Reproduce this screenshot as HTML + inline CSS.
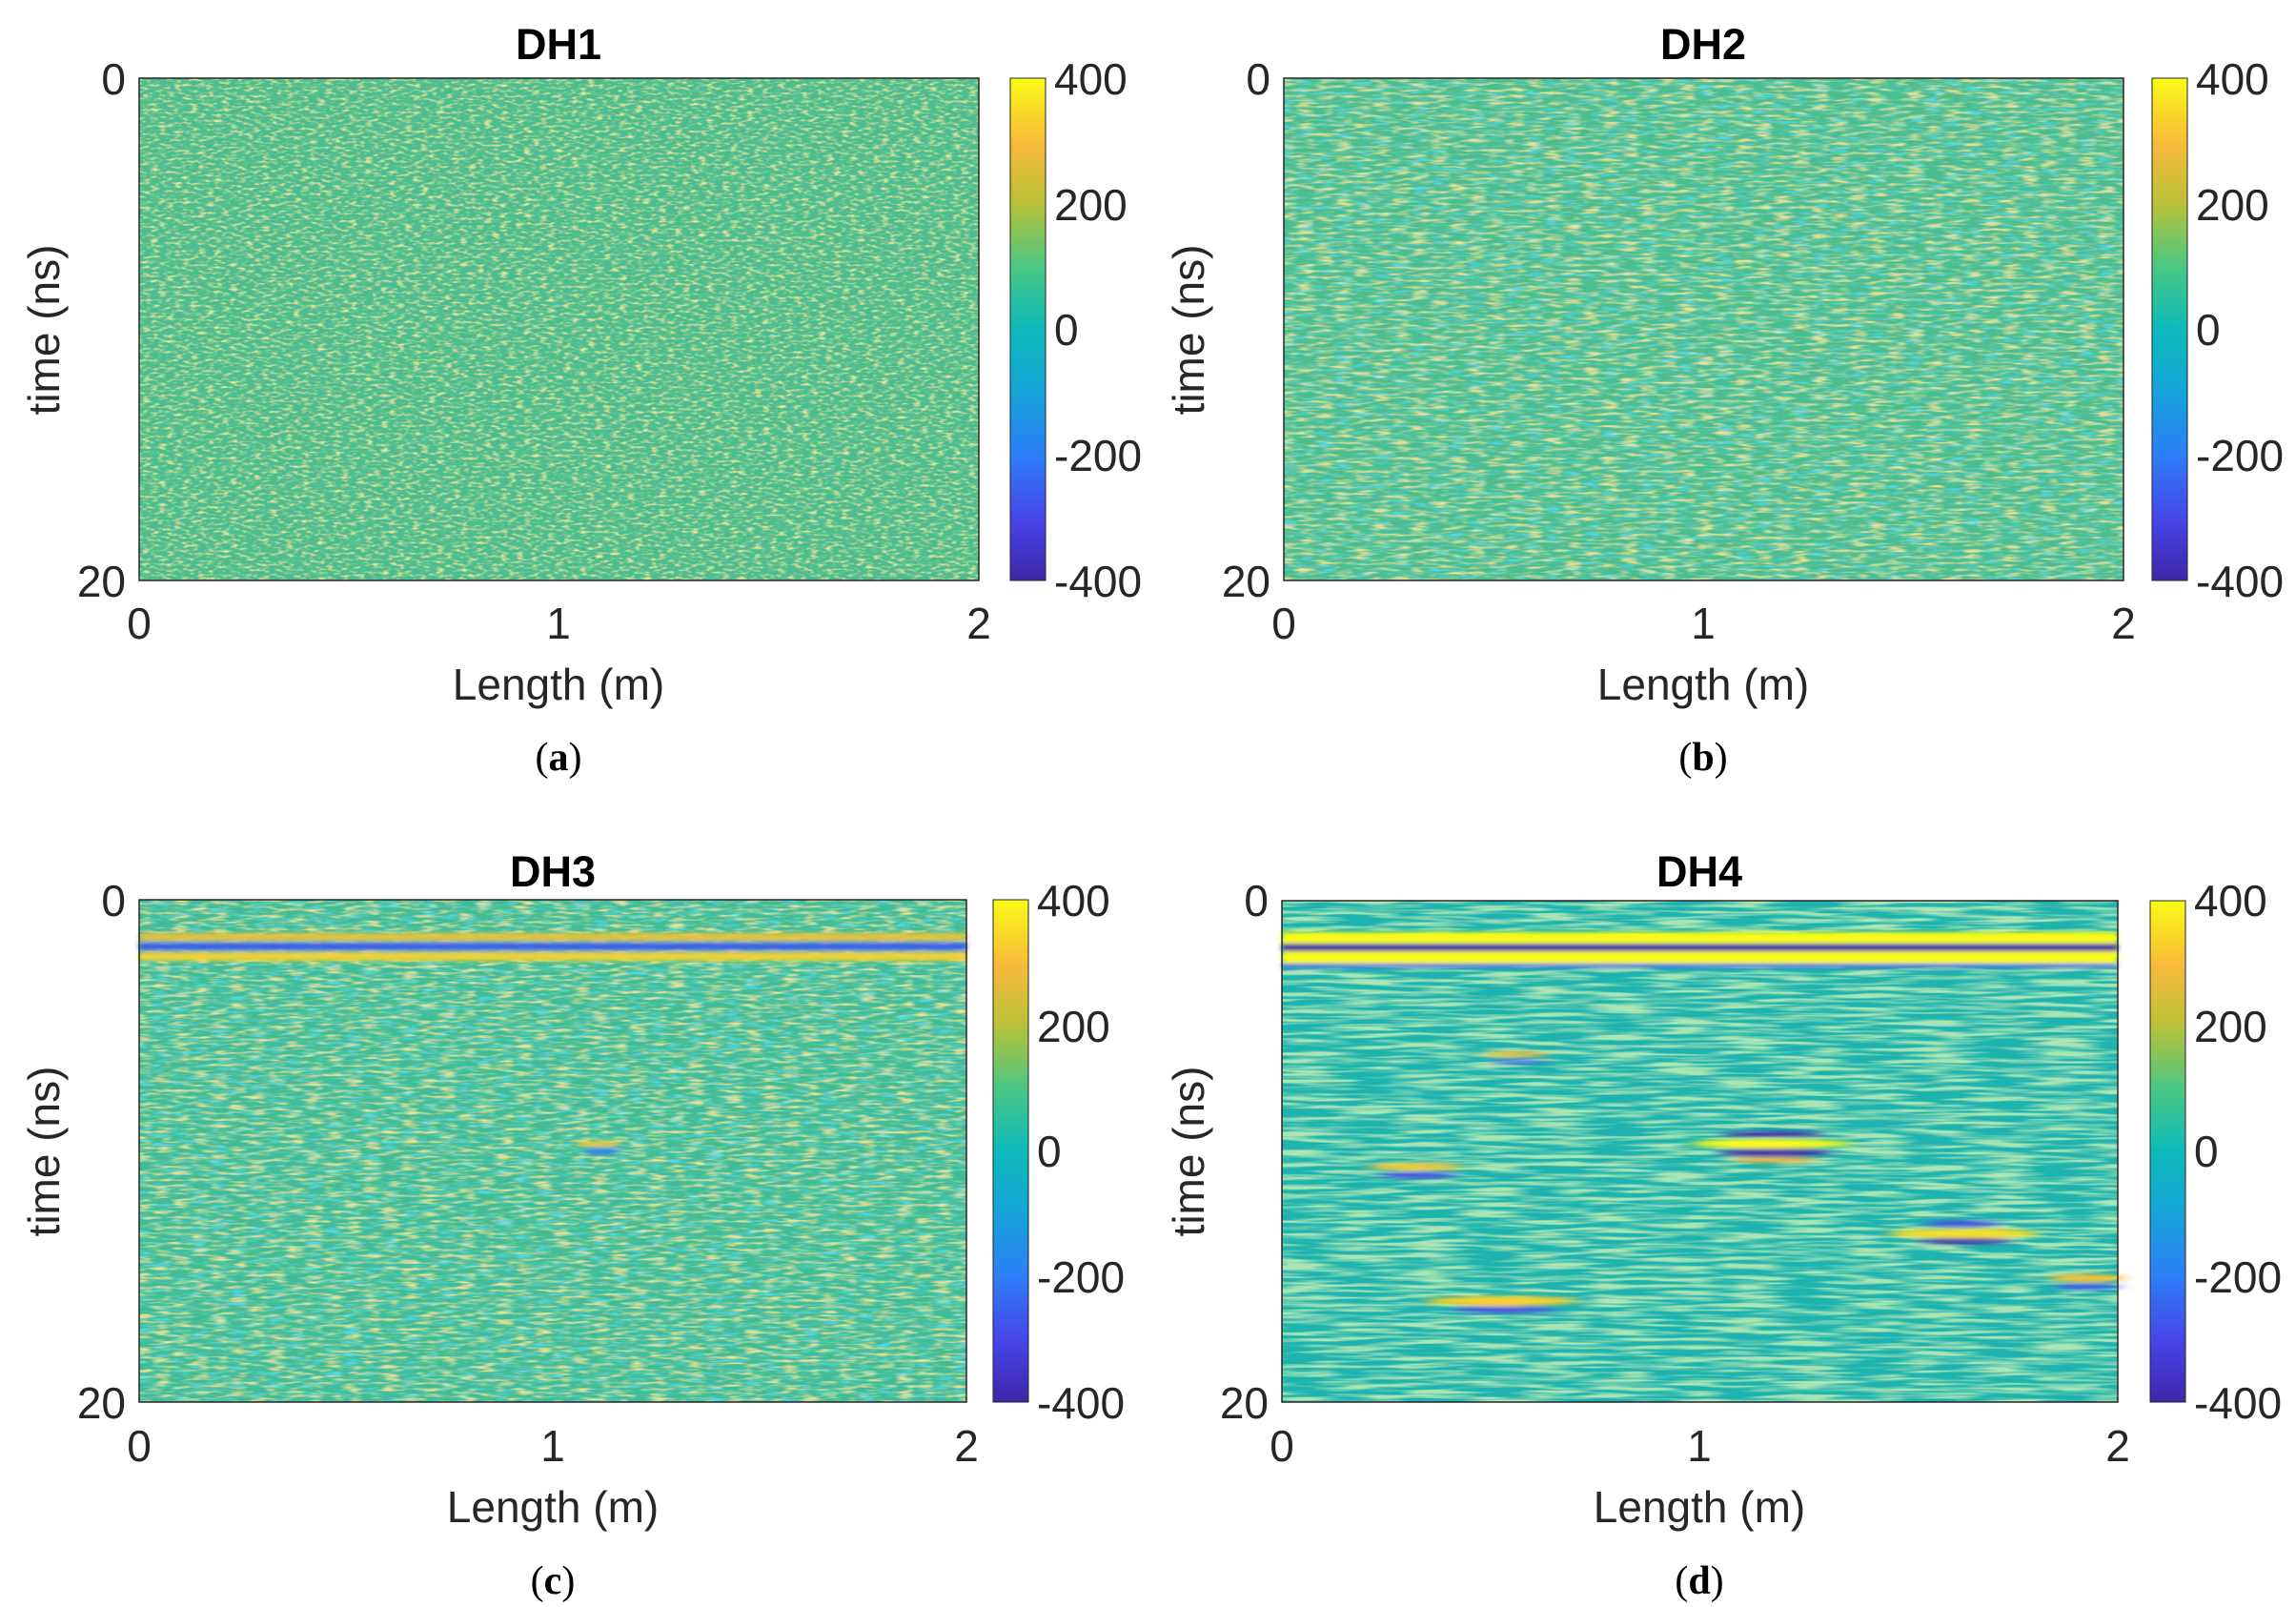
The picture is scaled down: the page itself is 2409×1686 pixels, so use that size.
<!DOCTYPE html>
<html><head><meta charset="utf-8"><style>
html,body{margin:0;padding:0;background:#fff;}
svg{display:block}
.t{font-family:"Liberation Sans",Arial,sans-serif;font-size:46px;fill:#262626}
.ti{font-family:"Liberation Sans",Arial,sans-serif;font-size:45px;font-weight:bold;fill:#000}
.cap{font-family:"Liberation Serif",serif;font-size:42px;fill:#000}
</style></head><body>
<svg width="2409" height="1686" viewBox="0 0 2409 1686" xmlns="http://www.w3.org/2000/svg">
<defs>
<linearGradient id="parula" x1="0" y1="1" x2="0" y2="0">
<stop offset="0" stop-color="#3e26a8"/><stop offset="0.12" stop-color="#4744e8"/>
<stop offset="0.25" stop-color="#2c7ef7"/><stop offset="0.38" stop-color="#16a5d8"/>
<stop offset="0.5" stop-color="#0cbaba"/><stop offset="0.62" stop-color="#46c785"/>
<stop offset="0.75" stop-color="#b9c138"/><stop offset="0.87" stop-color="#f9ba3a"/>
<stop offset="1" stop-color="#f9fb15"/></linearGradient>
<filter id="nA" x="0" y="0" width="1" height="1"><feTurbulence type="fractalNoise" baseFrequency="0.12 0.35" numOctaves="2" seed="3"/>
<feColorMatrix type="matrix" values="0 0 0 0 0.8  0 0 0 0 0.78  0 0 0 0 0.3  0 0 0 3 -1.4"/></filter>
<filter id="nB" x="0" y="0" width="1" height="1"><feTurbulence type="fractalNoise" baseFrequency="0.05 0.3" numOctaves="2" seed="7"/>
<feColorMatrix type="matrix" values="0 0 0 0 0.82  0 0 0 0 0.75  0 0 0 0 0.3  0 0 0 3 -1.4"/></filter>
<filter id="nBt" x="0" y="0" width="1" height="1"><feTurbulence type="fractalNoise" baseFrequency="0.05 0.3" numOctaves="2" seed="11"/>
<feColorMatrix type="matrix" values="0 0 0 0 0.1  0 0 0 0 0.68  0 0 0 0 0.78  0 0 0 3 -1.45"/></filter>
<filter id="nD" x="0" y="0" width="1" height="1"><feTurbulence type="fractalNoise" baseFrequency="0.015 0.25" numOctaves="2" seed="5"/>
<feColorMatrix type="matrix" values="0 0 0 0 0.4  0 0 0 0 0.78  0 0 0 0 0.45  0 0 0 3.5 -1.4"/></filter>
<filter id="bl"><feGaussianBlur stdDeviation="3 2"/></filter>
<filter id="bl2"><feGaussianBlur stdDeviation="8 2"/></filter>
</defs>

<!-- Panel a -->
<rect x="146" y="82" width="881" height="527" fill="#4cbd90"/>
<rect x="146" y="82" width="881" height="527" filter="url(#nA)"/>
<rect x="146" y="82" width="881" height="527" fill="none" stroke="#262626" stroke-width="1.5"/>
<rect x="1060" y="82" width="37" height="527" fill="url(#parula)" stroke="#262626" stroke-width="1"/>
<!-- Panel b -->
<rect x="1347" y="82" width="881" height="527" fill="#4cbd90"/>
<rect x="1347" y="82" width="881" height="527" filter="url(#nBt)"/>
<rect x="1347" y="82" width="881" height="527" filter="url(#nB)"/>
<rect x="1347" y="82" width="881" height="527" fill="none" stroke="#262626" stroke-width="1.5"/>
<rect x="2258" y="82" width="37" height="527" fill="url(#parula)" stroke="#262626" stroke-width="1"/>
<!-- Panel c -->
<rect x="146" y="944" width="868" height="527" fill="#42bc96"/>
<rect x="146" y="944" width="868" height="527" filter="url(#nBt)"/>
<rect x="146" y="944" width="868" height="527" filter="url(#nB)"/>
<g filter="url(#bl)">
<rect x="146" y="979" width="868" height="8" fill="#e6c23a"/>
<rect x="146" y="989" width="868" height="8" fill="#3460e8"/>
<rect x="146" y="999" width="868" height="9" fill="#f0d030"/>
<ellipse cx="628" cy="1200" rx="24" ry="3" fill="#f4c93a"/>
<ellipse cx="632" cy="1208" rx="20" ry="3" fill="#2c7ef7"/>
</g>
<rect x="146" y="944" width="868" height="527" fill="none" stroke="#262626" stroke-width="1.5"/>
<rect x="1042" y="944" width="37" height="527" fill="url(#parula)" stroke="#262626" stroke-width="1"/>
<!-- Panel d -->
<rect x="1345" y="945" width="877" height="526" fill="#1fb3b0"/>
<rect x="1345" y="945" width="877" height="526" filter="url(#nD)"/>
<g filter="url(#bl)">
<rect x="1345" y="978" width="877" height="12" fill="#f9fb15"/>
<rect x="1345" y="990" width="877" height="8" fill="#3e26a8"/>
<rect x="1345" y="998" width="877" height="13" fill="#f9fb15"/>
<rect x="1345" y="1011" width="877" height="4" fill="#3a5ae8"/>
</g>
<g filter="url(#bl2)">
<ellipse cx="1860" cy="1190" rx="55" ry="3" fill="#3e26a8"/>
<ellipse cx="1858" cy="1200" rx="85" ry="5" fill="#f9fb15"/>
<ellipse cx="1862" cy="1209" rx="60" ry="4" fill="#3e26a8"/>
<ellipse cx="1862" cy="1217" rx="45" ry="3" fill="#f0b040"/>
<ellipse cx="1485" cy="1224" rx="50" ry="4" fill="#f4c93a"/>
<ellipse cx="1488" cy="1233" rx="40" ry="3" fill="#4744e8"/>
<ellipse cx="2060" cy="1284" rx="40" ry="3" fill="#4744e8"/>
<ellipse cx="2060" cy="1294" rx="80" ry="5" fill="#f9e025"/>
<ellipse cx="2062" cy="1302" rx="50" ry="3" fill="#3e26a8"/>
<ellipse cx="1575" cy="1365" rx="80" ry="5" fill="#f9d025"/>
<ellipse cx="1578" cy="1374" rx="55" ry="3" fill="#4744e8"/>
<ellipse cx="2190" cy="1341" rx="40" ry="4" fill="#f4c030"/>
<ellipse cx="2190" cy="1350" rx="35" ry="3" fill="#3a5ae8"/>
<ellipse cx="1590" cy="1106" rx="35" ry="3" fill="#e8c040"/>
<ellipse cx="1592" cy="1114" rx="30" ry="2" fill="#3a5ae8"/>
</g>
<rect x="1345" y="945" width="877" height="526" fill="none" stroke="#262626" stroke-width="1.5"/>
<rect x="2256" y="945" width="37" height="526" fill="url(#parula)" stroke="#262626" stroke-width="1"/>

<!-- Text: panel a -->
<text class="ti" x="586" y="62" text-anchor="middle">DH1</text>
<text class="t" x="132" y="99" text-anchor="end">0</text>
<text class="t" x="132" y="626" text-anchor="end">20</text>
<text class="t" x="146" y="670" text-anchor="middle">0</text>
<text class="t" x="586" y="670" text-anchor="middle">1</text>
<text class="t" x="1027" y="670" text-anchor="middle">2</text>
<text class="t" x="586" y="734" text-anchor="middle">Length (m)</text>
<text class="t" transform="translate(62,346) rotate(-90)" text-anchor="middle">time (ns)</text>
<g class="t"><text x="1106" y="99">400</text><text x="1106" y="231">200</text><text x="1106" y="362">0</text><text x="1106" y="494">-200</text><text x="1106" y="626">-400</text></g>
<text class="cap" x="586" y="808" text-anchor="middle">(<tspan font-weight="bold">a</tspan>)</text>

<!-- panel b -->
<text class="ti" x="1787" y="62" text-anchor="middle">DH2</text>
<text class="t" x="1333" y="99" text-anchor="end">0</text>
<text class="t" x="1333" y="626" text-anchor="end">20</text>
<text class="t" x="1347" y="670" text-anchor="middle">0</text>
<text class="t" x="1787" y="670" text-anchor="middle">1</text>
<text class="t" x="2228" y="670" text-anchor="middle">2</text>
<text class="t" x="1787" y="734" text-anchor="middle">Length (m)</text>
<text class="t" transform="translate(1263,346) rotate(-90)" text-anchor="middle">time (ns)</text>
<g class="t"><text x="2304" y="99">400</text><text x="2304" y="231">200</text><text x="2304" y="362">0</text><text x="2304" y="494">-200</text><text x="2304" y="626">-400</text></g>
<text class="cap" x="1787" y="808" text-anchor="middle">(<tspan font-weight="bold">b</tspan>)</text>

<!-- panel c -->
<text class="ti" x="580" y="930" text-anchor="middle">DH3</text>
<text class="t" x="132" y="961" text-anchor="end">0</text>
<text class="t" x="132" y="1488" text-anchor="end">20</text>
<text class="t" x="146" y="1533" text-anchor="middle">0</text>
<text class="t" x="580" y="1533" text-anchor="middle">1</text>
<text class="t" x="1014" y="1533" text-anchor="middle">2</text>
<text class="t" x="580" y="1597" text-anchor="middle">Length (m)</text>
<text class="t" transform="translate(62,1208) rotate(-90)" text-anchor="middle">time (ns)</text>
<g class="t"><text x="1088" y="961">400</text><text x="1088" y="1093">200</text><text x="1088" y="1224">0</text><text x="1088" y="1356">-200</text><text x="1088" y="1488">-400</text></g>
<text class="cap" x="580" y="1672" text-anchor="middle">(<tspan font-weight="bold">c</tspan>)</text>

<!-- panel d -->
<text class="ti" x="1783" y="930" text-anchor="middle">DH4</text>
<text class="t" x="1331" y="961" text-anchor="end">0</text>
<text class="t" x="1331" y="1488" text-anchor="end">20</text>
<text class="t" x="1345" y="1533" text-anchor="middle">0</text>
<text class="t" x="1783" y="1533" text-anchor="middle">1</text>
<text class="t" x="2222" y="1533" text-anchor="middle">2</text>
<text class="t" x="1783" y="1597" text-anchor="middle">Length (m)</text>
<text class="t" transform="translate(1263,1208) rotate(-90)" text-anchor="middle">time (ns)</text>
<g class="t"><text x="2302" y="961">400</text><text x="2302" y="1093">200</text><text x="2302" y="1224">0</text><text x="2302" y="1356">-200</text><text x="2302" y="1488">-400</text></g>
<text class="cap" x="1783" y="1672" text-anchor="middle">(<tspan font-weight="bold">d</tspan>)</text>
</svg>
</body></html>
